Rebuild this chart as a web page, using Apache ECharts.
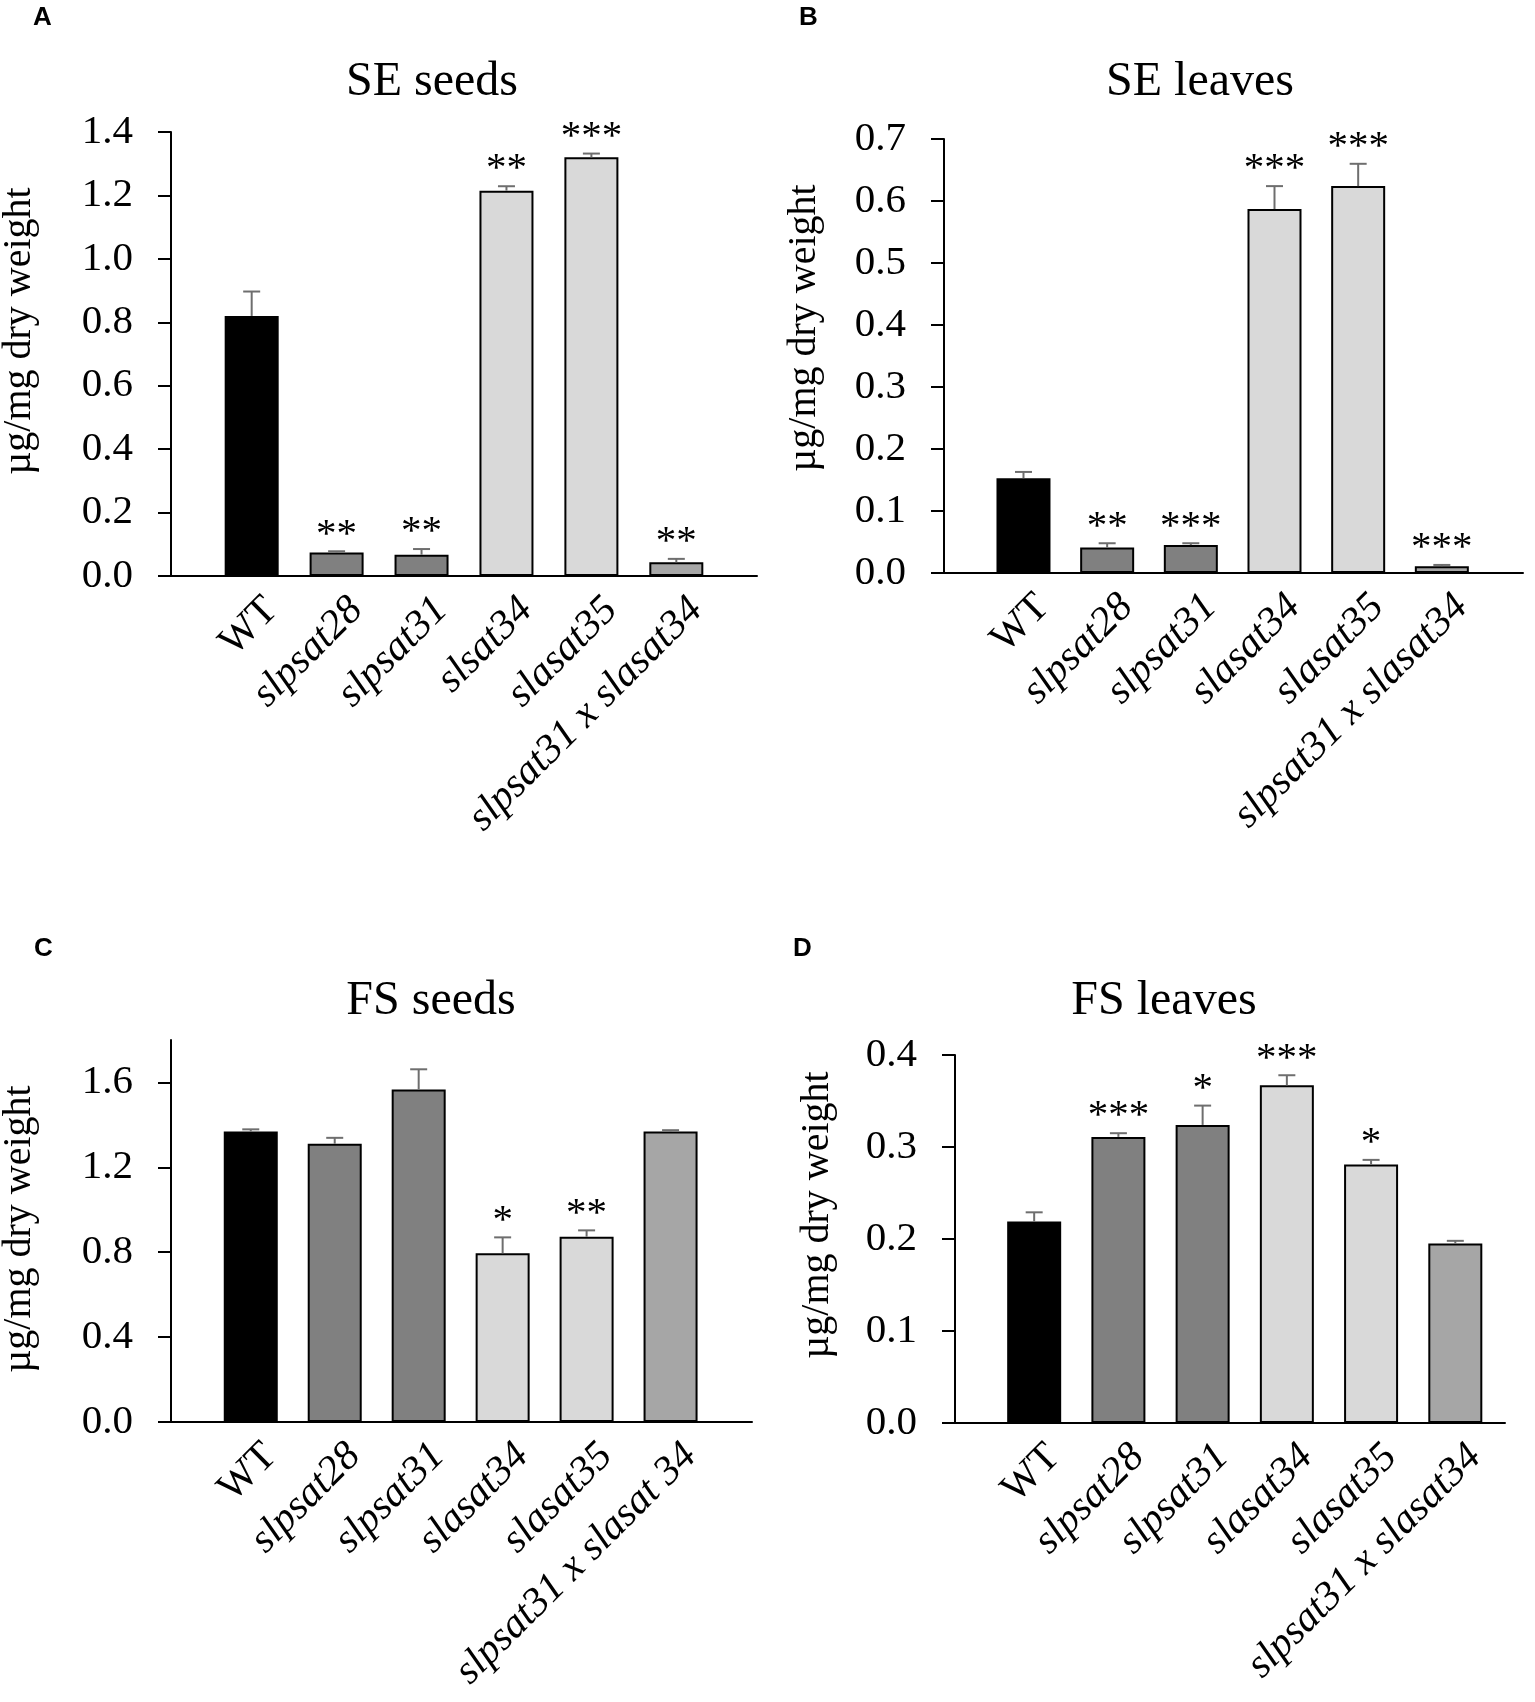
<!DOCTYPE html>
<html style="height: 100%">
<head>
<meta charset="utf-8">
<script src="https://cdn.jsdelivr.net/npm/echarts@6/dist/echarts.min.js"></script>
</head>
<body style="height: 100%; margin: 0; background-color: #ffffff">
<div id="container" style="width: 1535px; height: 1702px"></div>
<script type="text/javascript">
// categories
var namesA = ['WT', 'slpsat28', 'slpsat31', 'slsat34', 'slasat35', 'slpsat31 x slasat34'];
var namesB = ['WT', 'slpsat28', 'slpsat31', 'slasat34', 'slasat35', 'slpsat31 x slasat34'];
var namesC = ['WT', 'slpsat28', 'slpsat31', 'slasat34', 'slasat35', 'slpsat31 x slasat 34'];
var namesD = ['WT', 'slpsat28', 'slpsat31', 'slasat34', 'slasat35', 'slpsat31 x slasat34'];

// values, error (upper) and significance marks
var seSeeds = [0.82, 0.074, 0.067, 1.215, 1.32, 0.043];
var seSeedsErr = [0.077, 0.004, 0.018, 0.014, 0.012, 0.011];
var seSeedsSig = ['', '**', '**', '**', '***', '**'];

var seLeaves = [0.153, 0.041, 0.045, 0.587, 0.624, 0.011];
var seLeavesErr = [0.010, 0.007, 0.003, 0.037, 0.036, 0.002];
var seLeavesSig = ['', '**', '***', '***', '***', '***'];

var fsSeeds = [1.369, 1.311, 1.567, 0.795, 0.873, 1.369];
var fsSeedsErr = [0.010, 0.028, 0.095, 0.075, 0.030, 0.006];
var fsSeedsSig = ['', '', '', '*', '**', ''];

var fsLeaves = [0.219, 0.311, 0.324, 0.367, 0.281, 0.195];
var fsLeavesErr = [0.010, 0.004, 0.021, 0.011, 0.005, 0.003];
var fsLeavesSig = ['', '***', '*', '***', '*', ''];

// y tick labels
var ticksA = [0, 0.2, 0.4, 0.6, 0.8, 1.0, 1.2, 1.4];
var ticksB = [0, 0.1, 0.2, 0.3, 0.4, 0.5, 0.6, 0.7];
var ticksC = [0, 0.4, 0.8, 1.2, 1.6];
var ticksD = [0, 0.1, 0.2, 0.3, 0.4];

var barColors = ['#000000', '#808080', '#808080', '#d9d9d9', '#d9d9d9', '#a6a6a6'];
var serif = '"Liberation Serif", "Times New Roman", serif';
var yName = 'µg/mg dry weight';
var labelShift = 0.235; // rotated category labels sit a bit right of the bar centre

var panels = [
    {letter: 'A', title: 'SE seeds', names: namesA, values: seSeeds, err: seSeedsErr, sig: seSeedsSig, ticks: ticksA, max: 1.4,
     grid: {left: 171, top: 132, width: 586, height: 444}, xMin: -0.95, xMax: 5.95,
     titleX: 432, titleY: 82, letterX: 33, letterY: 5, nameX: 19, nameY: 331},
    {letter: 'B', title: 'SE leaves', names: namesB, values: seLeaves, err: seLeavesErr, sig: seLeavesSig, ticks: ticksB, max: 0.7,
     grid: {left: 944, top: 139, width: 579, height: 434}, xMin: -0.95, xMax: 5.97,
     titleX: 1200, titleY: 82, letterX: 799, letterY: 5, nameX: 804, nameY: 328},
    {letter: 'C', title: 'FS seeds', names: namesC, values: fsSeeds, err: fsSeedsErr, sig: fsSeedsSig, ticks: ticksC, max: 1.8,
     grid: {left: 171, top: 1040, width: 581, height: 382}, xMin: -0.95, xMax: 5.97,
     titleX: 431, titleY: 1001, letterX: 34, letterY: 936, nameX: 19, nameY: 1229},
    {letter: 'D', title: 'FS leaves', names: namesD, values: fsLeaves, err: fsLeavesErr, sig: fsLeavesSig, ticks: ticksD, max: 0.4,
     grid: {left: 955, top: 1055, width: 550, height: 368}, xMin: -0.94, xMax: 5.59,
     titleX: 1164, titleY: 1001, letterX: 793, letterY: 936, nameX: 817, nameY: 1215}
];

function makeErrRender(sig) {
    return function (params, api) {
        var i = api.value(0), v = api.value(1), e = api.value(2);
        var base = api.coord([i, v]);
        var top = api.coord([i, v + e]);
        return {
            type: 'group',
            children: [
                {type: 'line', shape: {x1: base[0], y1: base[1], x2: top[0], y2: top[1]},
                 style: {stroke: '#6e6e6e', lineWidth: 2}},
                {type: 'line', shape: {x1: top[0] - 8.5, y1: top[1], x2: top[0] + 8.5, y2: top[1]},
                 style: {stroke: '#6e6e6e', lineWidth: 2}},
                {type: 'text', x: top[0], y: top[1] + 4,
                 style: {text: sig[params.dataIndex], fill: '#000', font: '41px ' + serif,
                         align: 'center', verticalAlign: 'bottom', textAlign: 'center', textVerticalAlign: 'bottom'}}
            ]
        };
    };
}

var chart = echarts.init(document.getElementById('container'));
var option = {
    backgroundColor: '#ffffff',
    animation: false,
    grid: [], xAxis: [], yAxis: [], series: [], graphic: []
};

panels.forEach(function (p, k) {
    option.grid.push(p.grid);
    option.xAxis.push({
        type: 'value', gridIndex: k, min: p.xMin, max: p.xMax,
        axisLine: {show: true, onZero: false, lineStyle: {color: '#000', width: 2}},
        axisTick: {show: false},
        splitLine: {show: false},
        axisLabel: {
            customValues: p.names.map(function (n, i) { return i + labelShift; }),
            rotate: 45, margin: 28,
            formatter: function (v) {
                var n = p.names[Math.round(v - labelShift)];
                return n === 'WT' ? '{n|' + n + '}' : '{i|' + n + '}';
            },
            rich: {
                n: {fontFamily: serif, fontSize: 41, color: '#000', fontStyle: 'normal'},
                i: {fontFamily: serif, fontSize: 41, color: '#000', fontStyle: 'italic'}
            }
        }
    });
    option.yAxis.push({
        type: 'value', gridIndex: k, min: 0, max: p.max,
        axisLine: {show: true, onZero: false, lineStyle: {color: '#000', width: 2}},
        axisTick: {show: true, length: 13, lineStyle: {color: '#000', width: 2}, customValues: p.ticks},
        splitLine: {show: false},
        axisLabel: {
            customValues: p.ticks, margin: 38,
            fontFamily: serif, fontSize: 41, color: '#000',
            formatter: function (v) { return v.toFixed(1); }
        }
    });
    option.series.push({
        type: 'bar', xAxisIndex: k, yAxisIndex: k, barWidth: 54,
        data: p.values.map(function (v, i) {
            return {value: [i, v], itemStyle: {color: barColors[i], borderColor: '#000', borderWidth: 2}};
        })
    });
    option.series.push({
        type: 'custom', xAxisIndex: k, yAxisIndex: k, z: 5,
        renderItem: makeErrRender(p.sig),
        data: p.values.map(function (v, i) { return [i, v, p.err[i]]; })
    });
    option.graphic.push(
        {type: 'text', x: p.titleX, y: p.titleY,
         style: {text: p.title, font: '48px ' + serif, fill: '#000',
                 align: 'center', verticalAlign: 'middle', textAlign: 'center', textVerticalAlign: 'middle'}},
        {type: 'text', x: p.letterX, y: p.letterY,
         style: {text: p.letter, font: 'bold 26px "Liberation Sans", Arial, sans-serif', fill: '#000',
                 align: 'left', verticalAlign: 'top', textAlign: 'left', textVerticalAlign: 'top'}},
        {type: 'text', x: p.nameX, y: p.nameY, rotation: Math.PI / 2,
         style: {text: yName, font: '40px ' + serif, fill: '#000',
                 align: 'center', verticalAlign: 'middle', textAlign: 'center', textVerticalAlign: 'middle'}}
    );
});

chart.setOption(option);
</script>
</body>
</html>
